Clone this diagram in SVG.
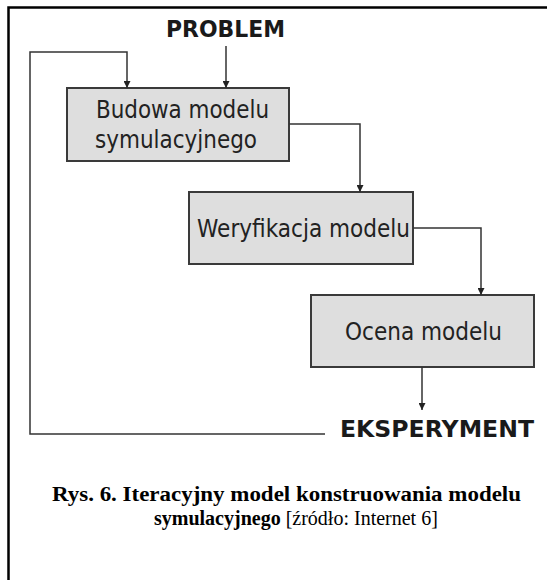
<svg xmlns="http://www.w3.org/2000/svg" width="547" height="580" viewBox="0 0 547 580">
  <style>
    .frame { fill: none; stroke: #000; stroke-width: 2.5; }
    .box { fill: #dedede; stroke: #3a3a3a; stroke-width: 2; }
    .lbl { font-family: "DejaVu Sans", Verdana, sans-serif; font-size: 24px; fill: #222; }
    .term { font-family: "DejaVu Sans", Verdana, sans-serif; font-size: 23px; font-weight: bold; fill: #1a1a1a; }
    .wire { fill: none; stroke: #333; stroke-width: 1.5; }
    .cap { font-family: "Liberation Serif", "Times New Roman", serif; font-size: 20px; fill: #000; }
  </style>
  <defs>
    <marker id="arrow" viewBox="0 0 10 10" refX="10" refY="5" markerWidth="9" markerHeight="7" markerUnits="userSpaceOnUse" orient="auto">
      <path d="M0,0 L10,5 L0,10 z" fill="#222"/>
    </marker>
  </defs>

  <rect width="547" height="580" fill="#fff"/>
  <rect class="frame" x="8.5" y="7.5" width="545" height="580"/>

  <g id="problem">
    <text class="term" x="166" y="37" textLength="119" lengthAdjust="spacingAndGlyphs">PROBLEM</text>
  </g>

  <g id="budowa">
    <rect class="box" x="67" y="88" width="222" height="73"/>
    <text class="lbl" x="96" y="118" textLength="173" lengthAdjust="spacingAndGlyphs">Budowa modelu</text>
    <text class="lbl" x="95" y="148" textLength="162" lengthAdjust="spacingAndGlyphs">symulacyjnego</text>
  </g>

  <g id="weryfikacja">
    <rect class="box" x="189" y="192" width="224" height="72"/>
    <text class="lbl" x="197" y="237" textLength="213" lengthAdjust="spacingAndGlyphs">Weryfikacja modelu</text>
  </g>

  <g id="ocena">
    <rect class="box" x="311" y="295" width="223" height="72"/>
    <text class="lbl" x="345" y="340" textLength="157" lengthAdjust="spacingAndGlyphs">Ocena modelu</text>
  </g>

  <g id="eksperyment">
    <text class="term" x="340" y="437" textLength="194" lengthAdjust="spacingAndGlyphs">EKSPERYMENT</text>
  </g>

  <g id="connectors">
    <path class="wire" d="M226,46 V88" marker-end="url(#arrow)"/>
    <path class="wire" d="M325,434 H30 V52 H127 V88" marker-end="url(#arrow)"/>
    <path class="wire" d="M289,124 H360 V192" marker-end="url(#arrow)"/>
    <path class="wire" d="M413,228 H481 V295" marker-end="url(#arrow)"/>
    <path class="wire" d="M422,367 V410" marker-end="url(#arrow)"/>
  </g>

  <g id="caption">
    <text class="cap" x="52" y="501" font-weight="bold" textLength="469" lengthAdjust="spacingAndGlyphs">Rys. 6. Iteracyjny model konstruowania modelu</text>
    <text class="cap" x="154" y="525"><tspan font-weight="bold">symulacyjnego</tspan> [źródło: Internet 6]</text>
  </g>
</svg>
